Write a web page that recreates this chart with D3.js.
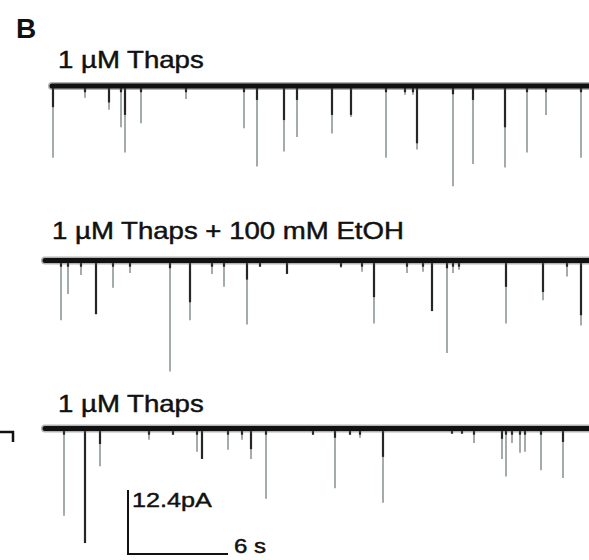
<!DOCTYPE html>
<html>
<head>
<meta charset="utf-8">
<script src="https://cdn.jsdelivr.net/npm/d3@7"></script>
<style>
html, body { margin: 0; padding: 0; background: #fff; }
svg { display: block; font-family: "Liberation Sans", Arial, sans-serif; }
</style>
</head>
<body>
<svg width="589" height="560"></svg>
<script>
"use strict";

// SVG.

var svg = d3.select("svg");
var width = +svg.attr("width");
var height = +svg.attr("height");

// Data: one sweep per condition. Event time (s), peak current (pA),
// and the part of each event drawn dark (pA).

var Conditions = ["1 µM Thaps", "1 µM Thaps + 100 mM EtOH", "1 µM Thaps"];
var SweepStart = [0.42, 0, 0];
var SweepEnd = [32.64, 32.64, 32.64];

var Sweep1Time = [0.48, 2.40, 3.84, 4.56, 4.80, 5.76, 8.46, 11.94, 12.72, 14.34, 15.12, 17.22,
                  18.36, 20.46, 21.60, 22.08, 22.32, 24.48, 25.68, 27.60, 28.92, 30.06, 32.16];
var Sweep1Amp = [-13.9, -2.3, -4.6, -8.0, -12.9, -7.2, -2.5, -8.2, -15.6, -12.7, -9.9, -9.2,
                 -6.0, -13.9, -1.7, -1.7, -12.3, -19.4, -15.1, -15.8, -12.9, -5.6, -13.9];
var Sweep1Dark = [-4.1, 0, -3.2, 0, -5.6, 0, 0, 0, -2.7, -6.6, -2.7, -5.6,
                  -5.6, 0, 0, 0, -11.1, -1.6, -2.7, -8.0, 0, 0, 0];

var Sweep2Time = [0.96, 1.38, 2.16, 3.06, 4.08, 5.10, 7.50, 8.70, 10.02, 10.74, 12.12, 12.90, 14.52,
                  17.76, 19.02, 19.74, 21.72, 22.68, 23.22, 24.12, 24.48, 24.84, 27.66, 29.88, 31.32, 32.16];
var Sweep2Amp = [-11.6, -6.5, -2.8, -10.4, -5.3, -2.4, -21.5, -11.6, -2.6, -5.1, -12.4, -1.2, -2.6,
                 -1.4, -2.2, -12.2, -2.4, -2.2, -9.8, -17.9, -2.4, -1.8, -12.2, -7.7, -3.1, -12.6];
var Sweep2Dark = [0, 0, 0, -10.4, 0, 0, -1.5, -8.1, 0, 0, -3.7, 0, -2.6,
                  0, 0, -7.1, 0, 0, -9.8, -1.5, 0, 0, -5.1, -6.1, 0, -10.6];

var Sweep3Time = [1.14, 2.40, 3.30, 6.24, 7.68, 9.12, 9.42, 10.98, 11.82, 12.36, 13.26, 16.08, 17.40,
                  18.30, 18.90, 20.28, 24.42, 25.02, 25.74, 27.42, 27.66, 28.02, 28.50, 28.80, 29.76, 31.08];
var Sweep3Amp = [-16.9, -22.2, -7.3, -2.2, -1.2, -4.5, -5.9, -4.1, -2.2, -5.9, -13.6, -1.2, -11.6,
                 -1.2, -1.8, -14.4, -1.0, -1.0, -2.8, -5.9, -9.3, -2.8, -4.7, -4.5, -8.1, -9.6];
var Sweep3Dark = [0, -22.2, -3.0, 0, 0, 0, -5.9, 0, 0, -4.0, 0, 0, -1.8,
                  0, 0, -5.5, 0, 0, 0, -2.0, 0, 0, 0, 0, 0, -2.6];

var ScaleAmp = 12.4;   // pA
var ScaleTime = 6;     // s
var ScaleLabels = ["12.4pA", "6 s"];
var PanelLabel = "B";

// Layout and style.

var Baselines = [86, 260.5, 428.5];
var LabelPos = [[58, 68], [52, 239], [58, 412]];
var FontSize = 23;
var Stretch = 1.2;

var TraceColor = "#111";
var EventColor = "#a3abab";
var DarkColor = "#262626";

// Scales: 6 s is 100 px, 12.4 pA is 64 px.

var x = d3.scaleLinear().domain([0, 32.64]).range([45, 589]);
var y = d3.scaleLinear().domain([0, -ScaleAmp]).range([0, 64]);

var sweeps = [
    {time: Sweep1Time, amp: Sweep1Amp, dark: Sweep1Dark},
    {time: Sweep2Time, amp: Sweep2Amp, dark: Sweep2Dark},
    {time: Sweep3Time, amp: Sweep3Amp, dark: Sweep3Dark}
];

var AddText = function(sel, txt, px, py, size, weight, sx){
    sel.append("text")
        .attr("transform", "translate(" + px + "," + py + ") scale(" + sx + ",1)")
        .attr("font-size", size)
        .attr("font-weight", weight)
        .attr("fill", "#111")
        .style("stroke", "#111")
        .style("stroke-width", weight == "bold" ? 0 : 0.45)
        .text(txt);
}

AddText(svg, PanelLabel, 16, 38, 28, "bold", 1);

sweeps.forEach(function(s, i){
    var g = svg.append("g")
        .attr("transform", "translate(0," + Baselines[i] + ")");

    var ev = s.time.map(function(t, k){
        return {t: t, a: s.amp[k], d: s.dark[k]};
    });

    // Grey body of each event.
    g.selectAll("line.ev")
        .data(ev)
        .enter()
        .append("line")
            .attr("class", "ev")
            .attr("x1", function(d){ return x(d.t); })
            .attr("x2", function(d){ return x(d.t); })
            .attr("y1", y(0))
            .attr("y2", function(d){ return y(d.a); })
            .style("stroke", EventColor)
            .style("stroke-width", 2);

    // Dark onset of each event.
    g.selectAll("line.dk")
        .data(ev)
        .enter()
        .append("line")
            .attr("class", "dk")
            .attr("x1", function(d){ return x(d.t); })
            .attr("x2", function(d){ return x(d.t); })
            .attr("y1", y(0))
            .attr("y2", function(d){ return y(Math.min(d.d, Math.max(d.a, -1.2))); })
            .style("stroke", DarkColor)
            .style("stroke-width", 2.2);

    // Baseline current.
    g.append("line")
        .attr("x1", x(SweepStart[i]))
        .attr("x2", x(SweepEnd[i]))
        .attr("y1", y(0))
        .attr("y2", y(0))
        .style("stroke", "#555")
        .style("stroke-opacity", 0.45)
        .style("stroke-width", 8)
        .style("stroke-linecap", "round");
    g.append("line")
        .attr("x1", x(SweepStart[i]))
        .attr("x2", x(SweepEnd[i]))
        .attr("y1", y(0))
        .attr("y2", y(0))
        .style("stroke", TraceColor)
        .style("stroke-width", 5)
        .style("stroke-linecap", "round");

    AddText(svg, Conditions[i], LabelPos[i][0], LabelPos[i][1], FontSize, "normal", Stretch);
});

// Cut-off corner from the neighbouring panel.
svg.append("path")
    .attr("d", "M0,432H13V442")
    .attr("fill", "none")
    .style("stroke", TraceColor)
    .style("stroke-width", 2.5);

// Scale bar.
var bx = 128, by = 554;
var bw = x(ScaleTime) - x(0);
var bh = y(-ScaleAmp) - y(0);
svg.append("path")
    .attr("d", "M" + bx + "," + (by - bh) + "V" + by + "H" + (bx + bw))
    .attr("fill", "none")
    .style("stroke", TraceColor)
    .style("stroke-width", 2);

AddText(svg, ScaleLabels[0], bx + 4, by - bh + 17, FontSize - 2, "normal", Stretch);
AddText(svg, ScaleLabels[1], bx + bw + 6, by - 1, FontSize - 3, "normal", Stretch);
</script>
</body>
</html>
